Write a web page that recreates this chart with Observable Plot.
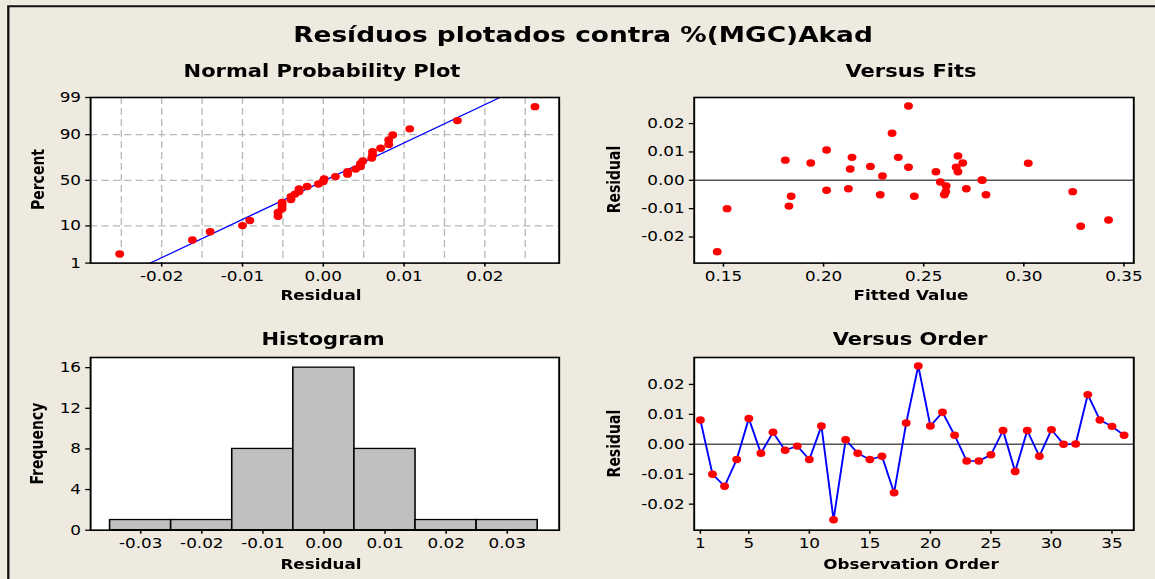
<!DOCTYPE html>
<html>
<head>
<meta charset="utf-8">
<script src="https://cdn.jsdelivr.net/npm/d3@7"></script>
<script src="https://cdn.jsdelivr.net/npm/@observablehq/plot@0.6"></script>
<style>
  html, body { margin: 0; padding: 0; background: #EEEAE0; }
  body { width: 1155px; height: 579px; overflow: hidden; position: relative; }
  #page { position: absolute; left: 0; top: 0; width: 962.5px; height: 579px;
          transform: scaleX(1.2); transform-origin: 0 0; background: #EEEAE0; }
  #page svg { position: absolute; }
</style>
</head>
<body>
<div id="page"></div>
<script>
// ---------------- data ----------------
const chartTitle = "Resíduos plotados contra %(MGC)Akad";
const panelTitles = ["Normal Probability Plot", "Versus Fits", "Histogram", "Versus Order"];

// residuals in observation order
const residuals = [0.0081,-0.0100,-0.0140,-0.0051,0.0086,-0.0030,0.0040,-0.0020,-0.0006,-0.0051,
                   0.0061,-0.0252,0.0015,-0.0030,-0.0051,-0.0040,-0.0162,0.0071,0.0262,0.0061,
                   0.0107,0.0030,-0.0056,-0.0056,-0.0035,0.0046,-0.0091,0.0046,-0.0040,0.0049,
                   0.0000,0.0001,0.0166,0.0081,0.0060,0.0030];
// fitted values in observation order
const fits = [0.2142,0.1518,0.3423,0.2283,0.2671,0.2124,0.2133,0.2612,0.2583,0.2603,
              0.1936,0.1469,0.2294,0.2713,0.2811,0.2610,0.3284,0.1809,0.2424,0.2695,
              0.2015,0.2561,0.1838,0.2453,0.2015,0.2424,0.1827,0.2662,0.3244,0.2234,
              0.2793,0.2790,0.2342,0.2373,0.3022,0.2671];
// histogram
const histMids = [-0.03,-0.02,-0.01,0.00,0.01,0.02,0.03];
const histCounts = [1,1,8,16,8,1,1];

// tick labels / grid values
const nppXTicks = [-0.02,-0.01,0,0.01,0.02];
const nppGridX = [-0.025,-0.02,-0.015,-0.01,-0.005,0,0.005,0.01,0.015,0.02,0.025];
const nppPctTicks = [1,10,50,90,99];
const nppGridPct = [10,50,90];
const fitsXTicks = [0.15,0.20,0.25,0.30,0.35];
const residTicks = [-0.02,-0.01,0,0.01,0.02];
const histXTicks = [-0.03,-0.02,-0.01,0,0.01,0.02,0.03];
const histYTicks = [0,4,8,12,16];
const orderXTicks = [1,5,10,15,20,25,30,35];

// ---------------- helpers ----------------
function qnorm(p) {
  const a=[-3.969683028665376e+01,2.209460984245205e+02,-2.759285104469687e+02,1.383577518672690e+02,-3.066479806614716e+01,2.506628277459239e+00];
  const b=[-5.447609879822406e+01,1.615858368580409e+02,-1.556989798598866e+02,6.680131188771972e+01,-1.328068155288572e+01];
  const c=[-7.784894002430293e-03,-3.223964580411365e-01,-2.400758277161838e+00,-2.549732539343734e+00,4.374664141464968e+00,2.938163982698783e+00];
  const d=[7.784695709041462e-03,3.224671290700398e-01,2.445134137142996e+00,3.754408661907416e+00];
  const pl=0.02425, ph=1-pl;
  if (p < pl) { const q=Math.sqrt(-2*Math.log(p)); return (((((c[0]*q+c[1])*q+c[2])*q+c[3])*q+c[4])*q+c[5])/((((d[0]*q+d[1])*q+d[2])*q+d[3])*q+1); }
  if (p > ph) { const q=Math.sqrt(-2*Math.log(1-p)); return -(((((c[0]*q+c[1])*q+c[2])*q+c[3])*q+c[4])*q+c[5])/((((d[0]*q+d[1])*q+d[2])*q+d[3])*q+1); }
  const q=p-0.5, r=q*q;
  return (((((a[0]*r+a[1])*r+a[2])*r+a[3])*r+a[4])*r+a[5])*q/(((((b[0]*r+b[1])*r+b[2])*r+b[3])*r+b[4])*r+1);
}
const fmt2 = d => d.toFixed(2);

const S = 1.2; // horizontal stretch of the original picture
const page = document.getElementById("page");
const FONT = "'DejaVu Sans', Verdana, sans-serif";

function panel(box, xScale, yScale, marks) {
  const [l, r, t, b] = box; // page pixels
  const mL = 60, mR = 12, mT = 12, mB = 40;
  const w = (r - l) / S + mL + mR, h = (b - t) + mT + mB;
  const svg = Plot.plot({
    width: w, height: h,
    marginLeft: mL, marginRight: mR, marginTop: mT, marginBottom: mB,
    x: {...xScale, axis: null}, y: {...yScale, axis: null},
    style: `overflow:visible;font-family:${FONT};font-size:14px;background:transparent;color:#000;`,
    marks: [Plot.frame({fill: "#fff", stroke: null}), ...marks, Plot.frame({stroke: "#000", strokeWidth: 1.6})]
  });
  svg.style.position = "absolute";
  svg.style.left = (l / S - mL) + "px";
  svg.style.top = (t - mT) + "px";
  svg.style.maxWidth = "none";
  page.appendChild(svg);
}

const axX = (ticks, fmt) => Plot.axisX(ticks, {tickSize: 4, tickPadding: 4, tickFormat: fmt, strokeWidth: 1.3, label: null, fill: "#000"});
const axY = (ticks, fmt) => Plot.axisY(ticks, {tickSize: 4, tickPadding: 4, tickFormat: fmt, strokeWidth: 1.3, label: null, fill: "#000"});
const RED = "#FF0000", BLUE = "#0000FF";

// ---------------- panel 1: normal probability plot ----------------
const n = residuals.length;
const sorted = residuals.slice().sort((a, b) => a - b);
const nppData = sorted.map((v, i) => ({res: v, z: qnorm((i + 1 - 0.3) / (n + 0.4))}));
const mean = d3.mean(residuals), sd = d3.deviation(residuals);
const zLo = qnorm(nppPctTicks[0] / 100), zHi = qnorm(nppPctTicks[nppPctTicks.length - 1] / 100);
const fitLine = [zLo, zHi].map(z => ({res: mean + sd * z, z}));
const pctZ = nppPctTicks.map(p => qnorm(p / 100));

panel([90, 558.6, 96.7, 262.3],
  {domain: [-0.0288, 0.0292]},
  {domain: [zLo, zHi]},
  [
    Plot.ruleX(nppGridX, {stroke: "#B8B8B8", strokeWidth: 1.1, strokeDasharray: "7,4"}),
    Plot.ruleY(nppGridPct.map(p => qnorm(p / 100)), {stroke: "#B8B8B8", strokeWidth: 1.3, strokeDasharray: "6,3.5"}),
    Plot.line(fitLine, {x: "res", y: "z", stroke: BLUE, strokeWidth: 1.2}),
    Plot.dot(nppData, {x: "res", y: "z", r: 3.7, fill: RED, stroke: null}),
    axX(nppXTicks, fmt2),
    axY(pctZ, d => String(nppPctTicks[pctZ.indexOf(d)]))
  ]);

// ---------------- panel 2: versus fits ----------------
const fitsData = residuals.map((r, i) => ({fit: fits[i], res: r}));
panel([693, 1132.6, 96.7, 262.3],
  {domain: [0.1354, 0.3549]},
  {domain: [-0.0292, 0.0292]},
  [
    Plot.ruleY([0], {stroke: "#555", strokeWidth: 1.6}),
    Plot.dot(fitsData, {x: "fit", y: "res", r: 3.7, fill: RED, stroke: null}),
    axX(fitsXTicks, fmt2),
    axY(residTicks, fmt2)
  ]);

// ---------------- panel 3: histogram ----------------
const histData = histMids.map((m, i) => ({mid: m, count: histCounts[i]}));
panel([90, 558.6, 357.3, 530],
  {domain: [-0.0382, 0.0385]},
  {domain: [0, 17]},
  [
    Plot.rectY(histData, {x1: d => d.mid - 0.005, x2: d => d.mid + 0.005, y: "count", fill: "#C0C0C0", stroke: "#000", strokeWidth: 1.3}),
    axX(histXTicks, fmt2),
    axY(histYTicks, d => String(d))
  ]);

// ---------------- panel 4: versus order ----------------
const orderData = residuals.map((r, i) => ({obs: i + 1, res: r}));
panel([693, 1132.6, 357.3, 530],
  {domain: [0.49, 36.8]},
  {domain: [-0.0287, 0.029]},
  [
    Plot.ruleY([0], {stroke: "#555", strokeWidth: 1.6}),
    Plot.line(orderData, {x: "obs", y: "res", stroke: BLUE, strokeWidth: 1.6}),
    Plot.dot(orderData, {x: "obs", y: "res", r: 3.7, fill: RED, stroke: null}),
    axX(orderXTicks, d => String(d)),
    axY(residTicks, fmt2)
  ]);

// ---------------- overlay: border, titles, axis labels ----------------
const ov = d3.select(page).append("svg")
  .attr("width", 962.5).attr("height", 579)
  .style("left", "0px").style("top", "0px").style("pointer-events", "none")
  .style("font-family", FONT).style("overflow", "visible");

ov.append("path").attr("d", `M${8.3 / S},600 V6.3 H1000`)
  .attr("fill", "none").attr("stroke", "#111").attr("stroke-width", 1.9);

function txt(x, y, s, size, rotate) {
  const t = ov.append("text")
    .attr("text-anchor", "middle").attr("font-weight", "bold")
    .attr("font-size", size).attr("fill", "#000").text(s);
  if (rotate) t.attr("transform", `translate(${x / S},${y}) rotate(-90)`);
  else t.attr("x", x / S).attr("y", y);
}
txt(583, 41.7, chartTitle, 22);
txt(322, 77, panelTitles[0], 17.5);
txt(911, 77, panelTitles[1], 17.5);
txt(323, 345.5, panelTitles[2], 17.5);
txt(910, 345.5, panelTitles[3], 17.5);

txt(321, 300.2, "Residual", 14);
txt(911, 300.2, "Fitted Value", 14);
txt(321, 569.3, "Residual", 14);
txt(911, 569.3, "Observation Order", 14);

txt(43.5, 179.5, "Percent", 14, true);
txt(620, 179.5, "Residual", 14, true);
txt(42.5, 443.6, "Frequency", 14, true);
txt(619.6, 443.6, "Residual", 14, true);
</script>
</body>
</html>
